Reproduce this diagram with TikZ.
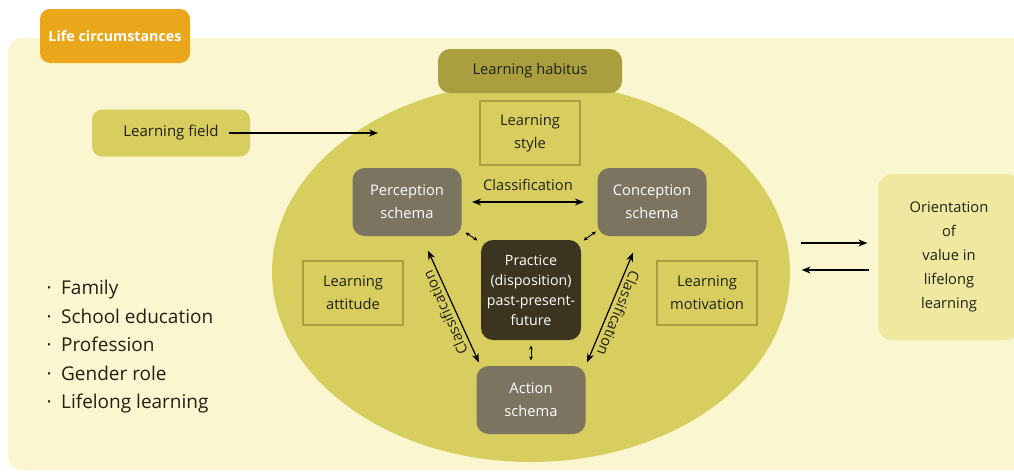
\documentclass[tikz,border=0pt]{standalone}
\usepackage{fontspec}
\setmainfont{Open Sans}
\usetikzlibrary{arrows.meta,shapes.geometric}
\definecolor{creamback}{HTML}{F9F6D0}
\definecolor{olivecirc}{HTML}{D8CE5F}
\definecolor{olivedark}{HTML}{A99F3F}
\definecolor{schemagray}{HTML}{7A7460}
\definecolor{practicebrown}{HTML}{3B3520}
\definecolor{lifeorange}{HTML}{EBA71B}
\definecolor{orientfill}{HTML}{EFE8A0}
\definecolor{inktext}{HTML}{231F14}
\begin{document}
\begin{tikzpicture}[x=1pt,y=-1pt,>={Stealth[length=9pt,width=7pt]},line width=1.2pt,
    every node/.style={font=\fontsize{14.7}{23}\selectfont,text=inktext,align=center,inner sep=0pt},
    schema/.style={fill=schemagray,text=white,rounded corners=12pt,minimum width=109pt,minimum height=68pt},
    framed/.style={draw=olivedark,line width=1.8pt,fill=olivecirc,minimum width=100pt,minimum height=64pt},
    smallarr/.style={<->,line width=0.9pt,>={Stealth[length=4pt,width=4pt]}}]
    \useasboundingbox (0,0) rectangle (1014,474);
    \clip (0,0) rectangle (1014,474);
    \fill[creamback,rounded corners=14pt] (8,38) rectangle (1040,470);
    \node[fill=lifeorange,rounded corners=10pt,minimum width=150pt,minimum height=54pt,text=white,font=\bfseries\fontsize{14.3}{16}\selectfont] (life) at (115,36) {Life circumstances};
    \node[fill=olivecirc,rounded corners=10pt,minimum width=158pt,minimum height=47pt,font=\fontsize{15}{18}\selectfont] (field) at (171,133) {Learning field};
    % the habitus ellipse and what sits in it
    \node[ellipse,fill=olivecirc,minimum width=518pt,minimum height=380pt] (habitus) at (531,272) {};
    \node[fill=olivedark,rounded corners=12pt,minimum width=184pt,minimum height=44pt] (habitustag) at (530,71) {Learning habitus};
    \node[framed] (lstyle) at (530,133) {Learning\\style};
    \node[framed] (attitude) at (353,293) {Learning\\attitude};
    \node[framed] (motiv) at (707,293) {Learning\\motivation};
    \node[schema] (percep) at (407,202) {Perception\\schema};
    \node[schema] (concep) at (652,202) {Conception\\schema};
    \node[schema] (action) at (531,400) {Action\\schema};
    \node[schema,fill=practicebrown,minimum width=100pt,minimum height=100pt,font=\fontsize{14.2}{20}\selectfont] (practice) at (531,290) {Practice\\(disposition)\\past-present-\\future};
    \node[fill=orientfill,rounded corners=14pt,minimum width=142pt,minimum height=166pt,font=\fontsize{14.7}{24}\selectfont] (orient) at (949,257) {Orientation\\of\\value in\\lifelong\\learning};
    \node[anchor=west,align=left,font=\fontsize{19}{28.5}\selectfont] (lifelist) at (46,347) {·\enskip Family\\·\enskip School education\\·\enskip Profession\\·\enskip Gender role\\·\enskip Lifelong learning};
    % arrows
    \coordinate (fieldend) at (378,133);
    \draw[->] ([xshift=-22pt]field.east) -- (fieldend);
    \draw[<->] ([xshift=10pt]percep.east) -- node[above=11pt] {Classification} ([xshift=-13pt]concep.west);
    \draw[<->] ([shift={(21,14)}]percep.south) -- node[pos=.52,rotate=114,anchor=south,inner sep=4pt] {Classification} ([shift={(3,-3)}]action.north west);
    \draw[<->] ([shift={(-19,16)}]concep.south) -- node[pos=.52,rotate=-112,anchor=south,inner sep=4pt] {Classification} ([shift={(1,-3)}]action.north east);
    \draw[smallarr] ([shift={(3.5,-4)}]percep.south east) -- ([shift={(-3,1)}]practice.north west);
    \draw[smallarr] ([shift={(-1,-5)}]concep.south west) -- ([shift={(2,1)}]practice.north east);
    \draw[smallarr] ([yshift=-5pt]practice.south) -- ([yshift=5pt]action.north);
    \draw[->] ([shift={(10,-29)}]habitus.east) -- ([shift={(-10,-14)}]orient.west);
    \draw[->] ([shift={(-8,13)}]orient.west) -- ([shift={(11,-2)}]habitus.east);
\end{tikzpicture}
\end{document}
